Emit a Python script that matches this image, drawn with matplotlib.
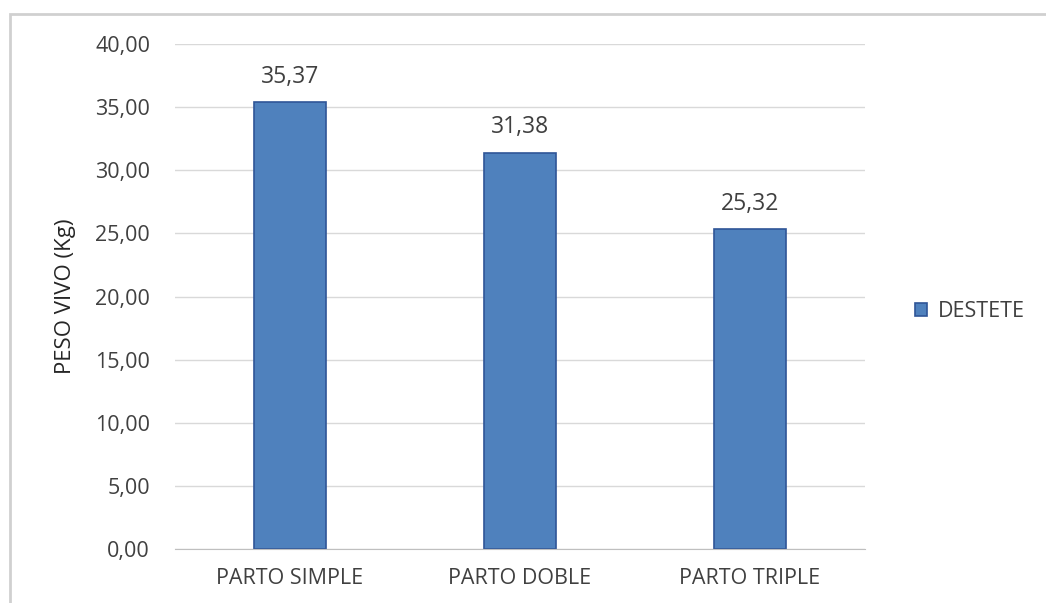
import matplotlib.pyplot as plt
from matplotlib.patches import Rectangle

# data
categories = ["PARTO SIMPLE", "PARTO DOBLE", "PARTO TRIPLE"]
destete = [35.37, 31.38, 25.32]
yticks = [0, 5, 10, 15, 20, 25, 30, 35, 40]

plt.rcParams['font.family'] = ['Open Sans', 'DejaVu Sans']

W, H = 1046, 603
fig = plt.figure(figsize=(W / 100, H / 100), dpi=100)
ax = fig.add_axes([175 / W, 1 - 549 / H, 690 / W, 505 / H])

# outer chart frame (light gray, left and top visible)
fig.patches.append(Rectangle((10 / W, -0.01), 1.1, 1 - 14 / H + 0.01,
                             transform=fig.transFigure, fill=False,
                             edgecolor="#D0D0D0", linewidth=2))

x = range(len(categories))
bars = ax.bar(x, destete, width=0.31, color="#4F81BD", edgecolor="#2F5597",
              linewidth=1.2, label="DESTETE", zorder=3)

for b, v in zip(bars, destete):
    ax.annotate(f"{v:.2f}".replace(".", ","), (b.get_x() + b.get_width() / 2, v),
                xytext=(0, 14), textcoords="offset points",
                ha="center", va="baseline", fontsize=16.5, color="#404040")

ax.set_xlim(-0.5, 2.5)
ax.set_ylim(0, 40)
ax.set_yticks(yticks)
ax.set_yticklabels([f"{t:.2f}".replace(".", ",") for t in yticks])
ax.set_xticks(list(x))
ax.set_xticklabels(categories)
ax.tick_params(axis="y", length=0, pad=18, labelsize=15.5, labelcolor="#404040")
ax.tick_params(axis="x", length=0, pad=14, labelsize=15.5, labelcolor="#404040")

ax.grid(axis="y", color="#D9D9D9", linewidth=1, zorder=0)
for s in ["top", "right", "left"]:
    ax.spines[s].set_visible(False)
ax.spines["bottom"].set_color("#BFBFBF")
ax.spines["bottom"].set_zorder(4)

fig.text(65 / W, 1 - 296 / H, "PESO VIVO (Kg)", rotation=90, ha="center",
         va="center", fontsize=16, color="#262626")

ax.legend(loc="center left", bbox_to_anchor=(1.06, 0.47), frameon=False,
          fontsize=15.5, handlelength=0.55, handleheight=0.55, handletextpad=0.5,
          borderaxespad=0, labelcolor="#404040")

fig.savefig("out.png", dpi=100)
